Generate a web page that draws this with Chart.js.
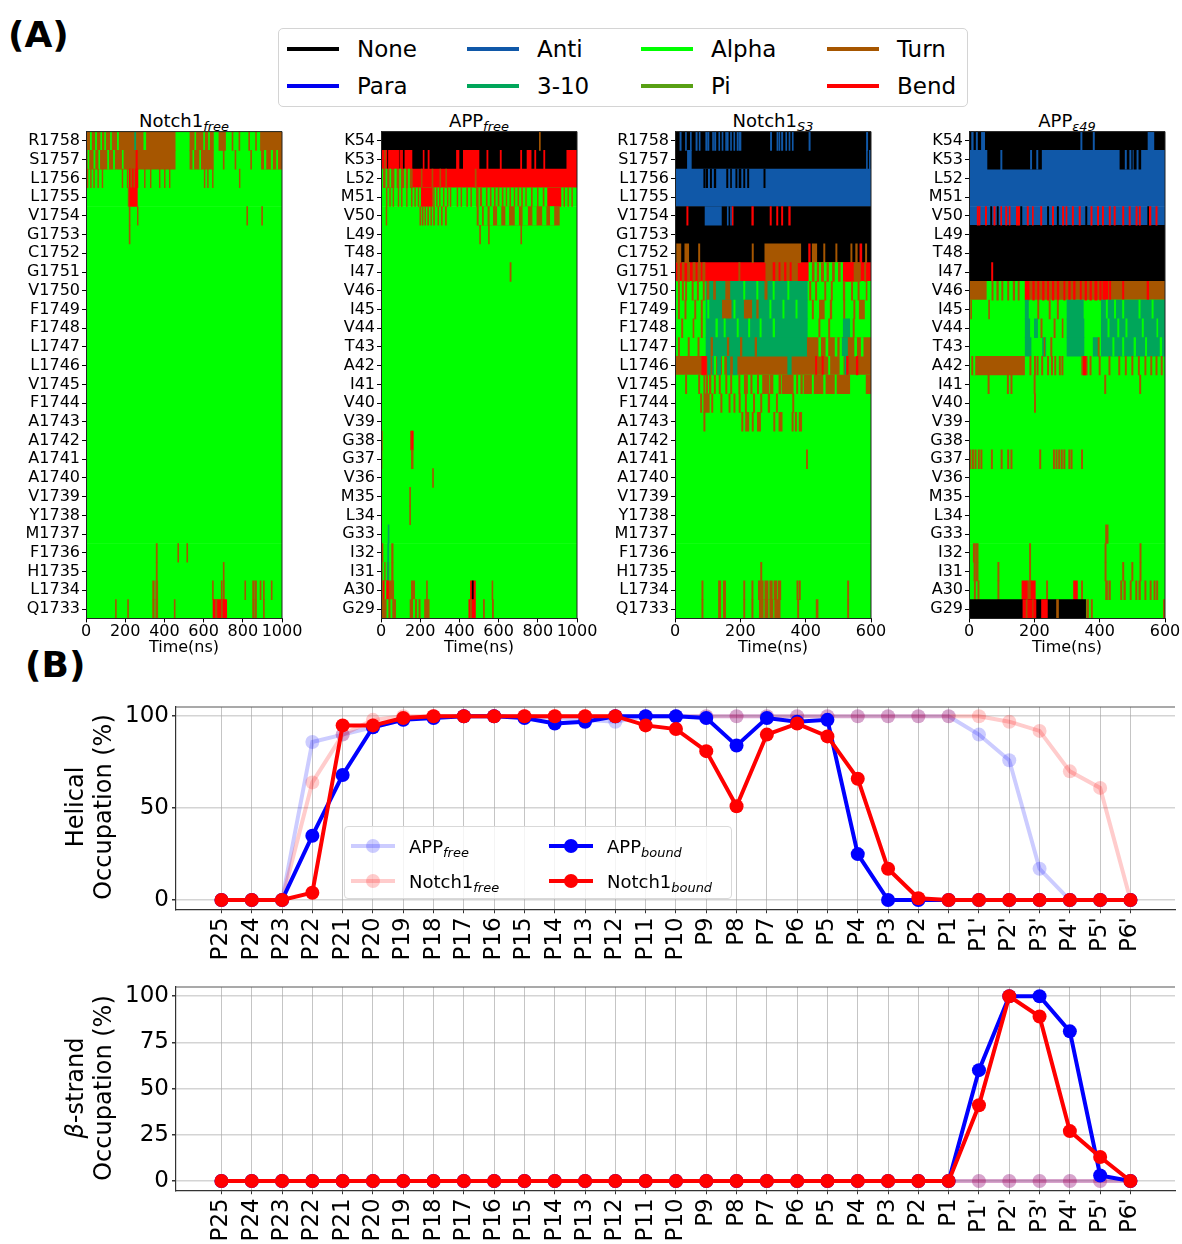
<!DOCTYPE html>
<html>
<head>
<meta charset="utf-8">
<script src="https://cdn.jsdelivr.net/npm/chart.js@4.4.1/dist/chart.umd.min.js"></script>
<style>
  body { margin: 0; width: 1182px; height: 1244px; overflow: hidden; background: #fff; position: relative;
         font-family: "DejaVu Sans", sans-serif; color: #000; }
  canvas { position: absolute; }
  .abs { position: absolute; white-space: nowrap; }
  .panel { font-weight: bold; font-size: 36px; line-height: 36px; }
  sub { font-size: 0.72em; vertical-align: -0.28em; line-height: 0; font-style: italic; }
  #legendA { left: 278px; top: 28px; width: 688px; height: 77px; border: 1px solid #d4d4d4; border-radius: 5px; background: #fff; }
  .litem { position: absolute; height: 30px; display: flex; align-items: center; font-size: 23px; white-space: nowrap; }
  .swatch { display: inline-block; width: 52px; height: 4px; margin-right: 18px; }
  .htitle { font-size: 18px; transform: translateX(-50%); top: 110px; }
  .ytitle { font-size: 24px; line-height: 28px; text-align: center; transform: translate(-50%, -50%) rotate(-90deg); }
  #legendB { left: 344px; top: 826px; width: 386px; height: 71px; border: 1px solid #d9d9d9; border-radius: 4px; background: rgba(255,255,255,0.8); }
  .bitem { position: absolute; height: 26px; display: flex; align-items: center; font-size: 18px; white-space: nowrap; }
  .bitem svg { margin-right: 14px; }
</style>
</head>
<body>
<div class="abs panel" style="left:8px;top:17px">(A)</div>
<div class="abs panel" style="left:25px;top:647px">(B)</div>
<div id="legendA" class="abs"></div>

<div class="abs htitle" style="left:184px">Notch1<sub>free</sub></div>
<div class="abs htitle" style="left:479px">APP<sub>free</sub></div>
<div class="abs htitle" style="left:773px">Notch1<sub>S3</sub></div>
<div class="abs htitle" style="left:1067px">APP<sub>ε49</sub></div>

<canvas id="hm1" width="306" height="555" style="left:0px;top:110px"></canvas>
<canvas id="hm2" width="306" height="555" style="left:295px;top:110px"></canvas>
<canvas id="hm3" width="306" height="555" style="left:589px;top:110px"></canvas>
<canvas id="hm4" width="306" height="555" style="left:883px;top:110px"></canvas>

<canvas id="helix" width="1182" height="270" style="left:0px;top:700px"></canvas>
<canvas id="beta" width="1182" height="264" style="left:0px;top:980px"></canvas>
<div class="abs ytitle" style="left:89px;top:807px">Helical<br>Occupation (%)</div>
<div class="abs ytitle" style="left:89px;top:1088px"><i>β</i>-strand<br>Occupation (%)</div>
<div id="legendB" class="abs"></div>

<script>
// secondary structure states (legend order, column by column)
const stateCodes = ['N', 'P', 'A', 'G', 'H', 'I', 'T', 'S'];
const stateNames = ['None', 'Para', 'Anti', '3-10', 'Alpha', 'Pi', 'Turn', 'Bend'];
const stateColors = ['#000000', '#0000f0', '#1058a8', '#00a65a', '#00ff00', '#58a014', '#a65600', '#ff0000'];

const timeTicksLong = [0, 200, 400, 600, 800, 1000];
const timeTicksShort = [0, 200, 400, 600];

// rows: [residue, state that fills the row], segments: [row, t0, t1, state]
const notch1FreeRows = [['R1758','H'],['S1757','H'],['L1756','H'],['L1755','H'],['V1754','H'],['G1753','H'],['C1752','H'],
  ['G1751','H'],['V1750','H'],['F1749','H'],['F1748','H'],['L1747','H'],['L1746','H'],['V1745','H'],['F1744','H'],
  ['A1743','H'],['A1742','H'],['A1741','H'],['A1740','H'],['V1739','H'],['Y1738','H'],['M1737','H'],['F1736','H'],
  ['H1735','H'],['L1734','H'],['Q1733','H']];
const notch1FreeSegs = [
  [0,0,455,'T'],[0,22,28,'H'],[0,48,54,'H'],[0,75,80,'H'],[0,95,100,'H'],[0,125,130,'H'],[0,160,166,'H'],[0,248,254,'G'],[0,295,305,'H'],
  [0,530,650,'T'],[0,555,560,'H'],[0,600,605,'H'],[0,625,630,'H'],[0,678,712,'T'],
  [0,745,750,'T'],[0,780,785,'T'],[0,830,835,'T'],[0,865,870,'T'],[0,890,1000,'T'],
  [1,0,455,'T'],[1,10,15,'H'],[1,40,46,'H'],[1,65,70,'H'],[1,110,116,'H'],[1,140,146,'H'],[1,185,190,'H'],[1,255,262,'S'],
  [1,530,650,'T'],[1,545,550,'H'],[1,580,585,'H'],
  [1,700,705,'T'],[1,760,765,'T'],[1,840,845,'T'],[1,895,1000,'T'],[1,910,918,'H'],[1,945,952,'H'],[1,972,978,'H'],
  [2,6,10,'T'],[2,23,27,'T'],[2,39,43,'T'],[2,60,64,'T'],[2,82,86,'T'],[2,184,188,'T'],[2,210,214,'T'],[2,220,265,'S'],
  [2,228,234,'T'],[2,244,248,'T'],[2,298,302,'T'],[2,328,332,'T'],[2,374,378,'T'],[2,400,404,'T'],[2,425,429,'T'],
  [2,603,607,'T'],[2,620,624,'T'],[2,645,649,'T'],[2,782,786,'T'],
  [3,215,222,'T'],[3,222,262,'S'],
  [4,220,225,'T'],[4,262,266,'T'],[4,820,825,'T'],[4,896,901,'T'],
  [5,220,225,'T'],
  [22,358,364,'T'],[22,468,473,'T'],[22,514,519,'T'],
  [23,358,364,'T'],[23,700,705,'T'],
  [24,340,348,'T'],[24,356,366,'T'],[24,645,650,'T'],[24,690,695,'T'],[24,700,706,'T'],[24,810,815,'T'],[24,850,858,'T'],
  [24,862,870,'T'],[24,888,893,'T'],[24,905,910,'T'],[24,945,950,'T'],
  [25,150,155,'T'],[25,212,217,'T'],[25,340,348,'T'],[25,356,366,'T'],[25,450,455,'T'],[25,648,718,'S'],[25,660,668,'T'],
  [25,690,696,'T'],[25,850,858,'T'],[25,862,870,'T'],[25,905,910,'T']
];

const appFreeRows = [['K54','N'],['K53','N'],['L52','S'],['M51','H'],['V50','H'],['L49','H'],['T48','H'],['I47','H'],
  ['V46','H'],['I45','H'],['V44','H'],['T43','H'],['A42','H'],['I41','H'],['V40','H'],['V39','H'],['G38','H'],['G37','H'],
  ['V36','H'],['M35','H'],['L34','H'],['G33','H'],['I32','H'],['I31','H'],['A30','H'],['G29','H']];
const appFreeSegs = [
  [0,808,813,'T'],
  [1,0,18,'S'],[1,18,24,'T'],[1,26,30,'S'],[1,38,90,'S'],[1,96,100,'S'],[1,104,110,'S'],[1,122,158,'S'],[1,215,220,'S'],
  [1,240,246,'S'],[1,385,398,'S'],[1,420,500,'S'],[1,540,546,'S'],[1,608,614,'S'],[1,712,718,'S'],[1,745,766,'S'],
  [1,784,790,'S'],[1,830,836,'S'],[1,948,1000,'S'],
  [2,0,12,'H'],[2,12,160,'T'],[2,25,30,'H'],[2,45,50,'H'],[2,70,78,'H'],[2,95,100,'H'],[2,120,125,'H'],[2,140,145,'H'],
  [2,205,210,'T'],[2,260,265,'T'],[2,300,305,'T'],[2,330,335,'T'],[2,480,486,'T'],
  [3,27,31,'T'],[3,44,48,'T'],[3,61,65,'T'],[3,87,91,'T'],[3,104,108,'T'],[3,130,134,'T'],[3,155,159,'T'],[3,172,176,'T'],
  [3,189,193,'T'],[3,205,262,'S'],[3,268,272,'T'],[3,283,287,'T'],[3,298,302,'T'],[3,318,322,'T'],[3,338,342,'T'],
  [3,353,357,'T'],[3,388,392,'T'],[3,408,412,'T'],[3,437,442,'T'],[3,458,462,'T'],[3,487,496,'T'],[3,506,514,'T'],
  [3,537,542,'T'],[3,557,562,'T'],[3,578,583,'T'],[3,597,602,'T'],[3,618,623,'T'],[3,638,642,'T'],[3,657,662,'T'],
  [3,679,683,'T'],[3,698,703,'T'],[3,717,722,'T'],[3,738,742,'T'],[3,767,772,'T'],[3,798,802,'T'],[3,827,832,'T'],
  [3,850,918,'S'],[3,933,937,'T'],[3,953,957,'T'],[3,973,977,'T'],
  [4,26,30,'T'],[4,198,203,'T'],[4,210,215,'T'],[4,224,228,'T'],[4,238,243,'T'],[4,254,258,'T'],[4,268,273,'T'],
  [4,290,294,'T'],[4,308,313,'T'],[4,328,334,'T'],
  [4,490,910,'T'],[4,500,514,'H'],[4,526,542,'H'],[4,556,570,'H'],[4,594,612,'H'],[4,636,652,'H'],[4,684,702,'H'],
  [4,724,748,'H'],[4,774,792,'H'],[4,824,842,'H'],[4,864,882,'H'],
  [5,503,508,'T'],[5,548,553,'T'],[5,713,718,'T'],
  [7,658,664,'T'],
  [16,0,7,'T'],[16,150,166,'T'],[16,156,162,'S'],
  [17,0,5,'T'],[17,155,164,'T'],
  [18,263,268,'T'],
  [19,146,151,'T'],
  [20,146,151,'T'],
  [21,0,3,'T'],[21,36,41,'G'],
  [22,0,10,'T'],[22,34,39,'G'],[22,54,62,'T'],
  [23,0,40,'T'],[23,10,15,'H'],[23,25,30,'H'],[23,34,39,'G'],[23,54,62,'T'],
  [24,0,65,'T'],[24,12,38,'S'],[24,20,25,'H'],[24,155,172,'T'],[24,232,237,'T'],[24,456,482,'S'],[24,465,471,'N'],[24,566,571,'T'],
  [25,0,75,'T'],[25,30,36,'H'],[25,50,56,'H'],[25,148,200,'T'],[25,165,172,'H'],[25,185,190,'H'],[25,222,246,'T'],
  [25,448,482,'S'],[25,455,462,'T'],[25,522,528,'T'],[25,568,574,'T']
];

const notch1S3Rows = [['R1758','N'],['S1757','N'],['L1756','A'],['L1755','A'],['V1754','N'],['G1753','N'],['C1752','N'],
  ['G1751','S'],['V1750','H'],['F1749','H'],['F1748','H'],['L1747','H'],['L1746','T'],['V1745','H'],['F1744','H'],
  ['A1743','H'],['A1742','H'],['A1741','H'],['A1740','H'],['V1739','H'],['Y1738','H'],['M1737','H'],['F1736','H'],
  ['H1735','H'],['L1734','H'],['Q1733','H']];
const notch1S3Segs = [
  [0,15,19,'A'],[0,32,35,'A'],[0,47,50,'A'],[0,64,68,'A'],[0,74,77,'A'],[0,94,98,'A'],[0,100,104,'A'],[0,115,118,'A'],
  [0,121,125,'A'],[0,134,137,'A'],[0,144,147,'A'],[0,155,158,'A'],[0,160,163,'A'],[0,170,173,'A'],[0,180,183,'A'],
  [0,190,194,'A'],[0,197,202,'A'],[0,292,296,'A'],[0,312,315,'A'],[0,318,321,'A'],[0,326,330,'A'],[0,339,342,'A'],
  [0,349,352,'A'],[0,359,362,'A'],[0,410,414,'A'],[0,586,590,'A'],
  [1,38,50,'A'],[1,586,589,'A'],[1,595,598,'A'],
  [2,88,92,'N'],[2,95,100,'N'],[2,108,112,'N'],[2,120,125,'N'],[2,158,162,'N'],[2,170,173,'N'],[2,186,190,'N'],
  [2,196,202,'N'],[2,210,214,'N'],[2,222,226,'N'],[2,272,276,'N'],
  [4,92,142,'A'],[4,160,163,'A'],[4,170,173,'A'],[4,36,40,'S'],[4,175,178,'S'],[4,235,240,'S'],[4,291,295,'S'],
  [4,311,315,'S'],[4,326,330,'S'],[4,348,353,'S'],
  [6,5,18,'T'],[6,30,42,'T'],[6,72,76,'T'],[6,236,240,'T'],[6,275,385,'T'],[6,409,414,'S'],[6,420,434,'T'],[6,455,459,'T'],
  [6,492,496,'T'],[6,538,542,'T'],[6,553,558,'T'],[6,566,572,'S'],[6,583,587,'T'],
  [7,8,14,'T'],[7,22,28,'T'],[7,38,45,'T'],[7,55,62,'T'],[7,70,78,'T'],[7,85,92,'T'],[7,195,199,'T'],[7,278,375,'T'],
  [7,300,306,'S'],[7,318,322,'S'],[7,335,340,'S'],[7,352,356,'S'],[7,410,515,'H'],[7,420,426,'T'],[7,435,440,'T'],
  [7,448,455,'T'],[7,465,470,'T'],[7,482,488,'T'],[7,500,506,'T'],[7,515,548,'S'],[7,548,568,'T'],[7,580,584,'T'],
  [8,10,14,'T'],[8,22,26,'T'],[8,32,36,'T'],[8,52,56,'T'],[8,68,72,'T'],[8,86,90,'T'],[8,95,405,'G'],[8,98,104,'T'],
  [8,118,124,'T'],[8,155,168,'T'],[8,275,282,'T'],[8,210,214,'H'],[8,250,254,'H'],[8,300,304,'H'],[8,345,349,'H'],
  [8,412,416,'T'],[8,430,434,'T'],[8,458,462,'T'],[8,478,482,'T'],[8,515,520,'T'],[8,540,544,'T'],[8,560,564,'T'],[8,585,588,'T'],
  [9,10,14,'T'],[9,30,34,'T'],[9,60,64,'T'],[9,80,84,'T'],[9,95,405,'G'],[9,100,104,'H'],[9,145,172,'T'],[9,180,184,'H'],
  [9,212,235,'T'],[9,250,255,'T'],[9,290,294,'H'],[9,330,334,'H'],[9,370,374,'H'],[9,420,424,'T'],[9,442,457,'T'],
  [9,475,480,'T'],[9,516,520,'T'],[9,547,551,'T'],[9,564,580,'T'],
  [10,20,24,'T'],[10,55,58,'T'],[10,80,84,'T'],[10,95,405,'G'],[10,125,130,'H'],[10,150,154,'H'],[10,190,194,'H'],
  [10,225,229,'H'],[10,260,264,'H'],[10,300,305,'H'],[10,440,444,'T'],[10,470,474,'T'],[10,515,535,'G'],[10,545,549,'T'],
  [11,10,14,'T'],[11,40,44,'T'],[11,70,74,'T'],[11,95,405,'G'],[11,110,115,'T'],[11,160,165,'T'],[11,200,205,'T'],
  [11,245,250,'T'],[11,405,600,'T'],[11,440,446,'H'],[11,462,468,'H'],[11,490,496,'H'],[11,505,510,'H'],[11,512,528,'G'],
  [11,550,556,'H'],[11,570,576,'H'],
  [12,82,96,'S'],[12,100,108,'G'],[12,115,122,'G'],[12,120,125,'H'],[12,130,140,'G'],[12,145,150,'H'],[12,160,168,'G'],
  [12,178,190,'G'],[12,345,356,'G'],[12,430,434,'S'],[12,450,454,'S'],[12,470,474,'H'],[12,505,515,'H'],[12,520,525,'G'],
  [12,525,530,'S'],[12,555,560,'S'],
  [13,32,36,'T'],[13,72,76,'T'],[13,88,92,'T'],[13,96,100,'T'],[13,105,110,'T'],[13,120,124,'T'],[13,135,139,'T'],
  [13,155,159,'T'],[13,170,174,'T'],[13,195,199,'T'],[13,212,222,'T'],[13,232,236,'T'],[13,252,256,'T'],[13,268,288,'T'],
  [13,292,300,'T'],[13,318,324,'T'],[13,328,362,'T'],[13,372,376,'T'],[13,385,390,'T'],[13,395,535,'T'],[13,420,424,'H'],
  [13,455,460,'H'],[13,490,494,'H'],[13,585,600,'T'],
  [14,78,82,'T'],[14,88,105,'T'],[14,112,116,'T'],[14,140,144,'T'],[14,165,169,'T'],[14,180,184,'T'],[14,196,200,'T'],
  [14,215,219,'T'],[14,240,244,'T'],[14,262,266,'T'],[14,285,290,'T'],[14,310,314,'T'],[14,360,364,'T'],
  [15,88,92,'T'],[15,204,208,'T'],[15,216,226,'T'],[15,236,240,'T'],[15,252,262,'T'],[15,302,306,'T'],[15,318,328,'T'],
  [15,358,362,'T'],[15,368,372,'T'],[15,380,388,'T'],
  [17,402,406,'T'],
  [23,262,266,'T'],
  [24,82,86,'T'],[24,133,140,'T'],[24,148,155,'T'],[24,210,214,'T'],[24,235,239,'T'],[24,255,270,'T'],[24,275,285,'T'],
  [24,290,298,'T'],[24,303,312,'T'],[24,316,324,'T'],[24,373,377,'T'],[24,380,384,'T'],[24,528,532,'T'],
  [25,82,86,'T'],[25,133,140,'T'],[25,148,155,'T'],[25,210,214,'T'],[25,235,239,'T'],[25,258,270,'T'],[25,275,285,'T'],
  [25,290,300,'T'],[25,305,322,'T'],[25,375,379,'T'],[25,432,438,'T'],[25,528,532,'T']
];

const appE49Rows = [['K54','N'],['K53','A'],['L52','A'],['M51','A'],['V50','A'],['L49','N'],['T48','N'],['I47','N'],
  ['V46','T'],['I45','H'],['V44','H'],['T43','H'],['A42','H'],['I41','H'],['V40','H'],['V39','H'],['G38','H'],['G37','H'],
  ['V36','H'],['M35','H'],['L34','H'],['G33','H'],['I32','H'],['I31','H'],['A30','H'],['G29','H']];
const appE49Segs = [
  [0,8,13,'A'],[0,22,26,'A'],[0,38,48,'A'],[0,342,346,'A'],[0,380,384,'A'],[0,548,566,'A'],
  [1,57,95,'N'],[1,103,222,'N'],[1,188,192,'A'],[1,207,211,'A'],[1,462,500,'N'],[1,478,482,'A'],[1,492,496,'A'],
  [1,505,512,'N'],[1,520,526,'N'],
  [4,25,29,'S'],[4,31,34,'S'],[4,50,54,'S'],[4,76,80,'S'],[4,97,100,'S'],[4,112,116,'S'],[4,123,126,'S'],[4,145,155,'S'],
  [4,178,182,'S'],[4,194,197,'S'],[4,219,223,'S'],[4,255,259,'S'],[4,286,290,'S'],[4,297,300,'S'],[4,316,320,'S'],
  [4,337,341,'S'],[4,373,377,'S'],[4,393,397,'S'],[4,408,412,'S'],[4,429,433,'S'],[4,444,448,'S'],[4,470,474,'S'],
  [4,490,494,'S'],[4,511,515,'S'],[4,521,525,'S'],[4,552,557,'S'],[4,572,576,'S'],
  [4,66,70,'N'],[4,86,90,'N'],[4,158,162,'N'],[4,240,244,'N'],[4,270,274,'N'],[4,357,361,'N'],[4,547,550,'N'],
  [7,69,73,'S'],
  [8,55,170,'H'],[8,70,74,'T'],[8,85,90,'T'],[8,100,104,'T'],[8,118,122,'T'],[8,135,140,'T'],[8,150,154,'T'],
  [8,172,184,'S'],[8,195,200,'S'],[8,210,214,'S'],[8,225,230,'S'],[8,240,244,'S'],[8,255,260,'S'],[8,270,275,'S'],
  [8,290,294,'S'],[8,305,310,'S'],[8,320,325,'S'],[8,340,344,'S'],[8,355,360,'S'],[8,370,375,'S'],[8,385,392,'S'],
  [8,400,405,'S'],[8,410,425,'S'],[8,430,434,'S'],[8,470,474,'S'],[8,545,550,'S'],
  [9,5,8,'T'],[9,60,63,'T'],[9,172,182,'G'],[9,210,214,'T'],[9,245,249,'T'],[9,270,274,'T'],[9,300,350,'G'],[9,405,600,'G'],
  [9,420,424,'H'],[9,445,449,'H'],[9,470,474,'H'],[9,520,524,'H'],[9,560,564,'H'],
  [10,172,186,'G'],[10,200,210,'G'],[10,220,224,'T'],[10,260,264,'T'],[10,285,288,'T'],[10,300,352,'G'],[10,405,600,'G'],
  [10,425,429,'H'],[10,455,459,'H'],[10,480,484,'H'],[10,530,534,'H'],[10,575,578,'H'],
  [11,172,190,'G'],[11,225,235,'G'],[11,230,232,'T'],[11,250,254,'T'],[11,300,352,'G'],[11,380,395,'G'],[11,395,399,'T'],
  [11,405,600,'G'],[11,440,444,'H'],[11,470,474,'H'],[11,505,510,'H'],[11,540,544,'H'],[11,585,590,'H'],
  [12,8,170,'T'],[12,14,18,'H'],[12,186,190,'T'],[12,200,204,'T'],[12,208,212,'T'],[12,222,226,'T'],[12,240,244,'T'],
  [12,252,256,'T'],[12,262,266,'T'],[12,276,280,'T'],[12,284,288,'T'],[12,345,362,'T'],[12,350,358,'S'],[12,370,374,'T'],
  [12,398,402,'T'],[12,428,432,'T'],[12,458,462,'T'],[12,478,482,'T'],[12,498,502,'T'],[12,518,522,'T'],[12,538,542,'T'],
  [12,556,560,'T'],[12,572,576,'T'],[12,588,592,'T'],
  [13,58,62,'T'],[13,117,121,'T'],[13,128,132,'T'],[13,199,203,'T'],[13,415,419,'T'],[13,522,526,'T'],
  [14,200,204,'T'],
  [17,2,6,'T'],[17,10,14,'T'],[17,18,22,'T'],[17,28,32,'T'],[17,36,40,'T'],[17,68,72,'T'],[17,98,102,'T'],[17,118,122,'T'],
  [17,128,132,'T'],[17,216,220,'T'],[17,258,262,'T'],[17,266,270,'T'],[17,274,278,'T'],[17,282,286,'T'],[17,290,294,'T'],
  [17,305,309,'T'],[17,312,316,'T'],[17,344,348,'T'],
  [21,418,426,'T'],
  [22,13,20,'T'],[22,22,28,'T'],[22,185,189,'T'],[22,416,420,'T'],[22,523,527,'T'],
  [23,15,20,'T'],[23,22,28,'T'],[23,88,92,'T'],[23,185,189,'T'],[23,416,420,'T'],[23,470,474,'T'],[23,498,502,'T'],[23,523,527,'T'],
  [24,16,20,'T'],[24,27,31,'T'],[24,88,92,'T'],[24,162,180,'S'],[24,180,190,'T'],[24,190,203,'S'],[24,237,241,'T'],
  [24,320,332,'S'],[24,344,348,'T'],[24,418,424,'T'],[24,428,433,'T'],[24,464,468,'T'],[24,474,479,'T'],[24,493,497,'T'],
  [24,510,514,'T'],[24,520,525,'T'],[24,538,542,'T'],[24,554,558,'T'],[24,566,570,'T'],[24,574,578,'T'],
  [25,0,357,'N'],[25,165,175,'S'],[25,175,180,'T'],[25,180,195,'S'],[25,195,198,'T'],[25,198,205,'S'],[25,222,240,'S'],
  [25,268,274,'T'],[25,360,366,'T'],[25,374,378,'T'],[25,595,600,'T']
];

// panel B: residue positions and occupancies (%)
const positions = ['P25','P24','P23','P22','P21','P20','P19','P18','P17','P16','P15','P14','P13','P12','P11','P10',
  'P9','P8','P7','P6','P5','P4','P3','P2','P1',"P1'","P2'","P3'","P4'","P5'","P6'"];
const helixAppFree    = [0,0,0,86,90,94,98,100,100,100,100,99,98,97,100,100,100,100,100,100,100,100,100,100,100,90,76,17,0,0,0];
const helixNotchFree  = [0,0,0,64,90,98,100,100,100,100,100,100,100,100,100,100,100,100,100,100,100,100,100,100,100,100,97,92,70,61,0];
const helixAppBound   = [0,0,0,35,68,94,98,99,100,100,99,96,97,100,100,100,99,84,99,97,98,25,0,0,0,0,0,0,0,0,0];
const helixNotchBound = [0,0,0,4,95,95,99,100,100,100,100,100,100,100,95,93,81,51,90,96,89,66,17,1,0,0,0,0,0,0,0];
const betaAppFree     = [0,0,0,0,0,0,0,0,0,0,0,0,0,0,0,0,0,0,0,0,0,0,0,0,0,0,0,0,0,0,0];
const betaNotchFree   = [0,0,0,0,0,0,0,0,0,0,0,0,0,0,0,0,0,0,0,0,0,0,0,0,0,0,0,0,0,0,0];
const betaAppBound    = [0,0,0,0,0,0,0,0,0,0,0,0,0,0,0,0,0,0,0,0,0,0,0,0,0,60,100,100,81,3,0];
const betaNotchBound  = [0,0,0,0,0,0,0,0,0,0,0,0,0,0,0,0,0,0,0,0,0,0,0,0,0,41,100,89,27,13,0];
const helixTicks = [0, 50, 100];
const betaTicks = [0, 25, 50, 75, 100];
const seriesNames = ['APP', 'Notch1', 'APP', 'Notch1'];
const seriesSubs = ['free', 'free', 'bound', 'bound'];
const seriesColors = ['rgba(0,0,255,0.2)', 'rgba(255,0,0,0.2)', '#0000ff', '#ff0000'];

// ---------------------------------------------------------------
const FONT = "'DejaVu Sans', sans-serif";
Chart.defaults.font.family = FONT;
Chart.defaults.color = '#000';
const colorOf = Object.fromEntries(stateCodes.map((c, i) => [c, stateColors[i]]));

const frame = {
  id: 'frame',
  afterDatasetsDraw(chart, args, opts) {
    const { ctx, chartArea: a } = chart;
    ctx.save();
    ctx.strokeStyle = opts.color;
    ctx.lineWidth = opts.width;
    ctx.beginPath();
    ctx.moveTo(a.left, a.top); ctx.lineTo(a.right, a.top);
    if (opts.right) { ctx.moveTo(a.right, a.top); ctx.lineTo(a.right, a.bottom); }
    ctx.stroke();
    ctx.restore();
  }
};

function heatmap(id, rows, segs, tMax, ticks) {
  const labels = rows.map(r => r[0]);
  const data = rows.map(r => ({ y: r[0], x: [0, tMax], s: r[1] }));
  segs.forEach(([r, t0, t1, s]) => data.push({ y: labels[r], x: [t0, t1], s }));
  return new Chart(document.getElementById(id), {
    type: 'bar',
    data: { labels, datasets: [{ data, backgroundColor: c => (c.raw ? colorOf[c.raw.s] : '#000'),
      borderWidth: 0, barPercentage: 1, categoryPercentage: 1 }] },
    plugins: [frame],
    options: {
      indexAxis: 'y', responsive: false, animation: false,
      layout: { padding: { top: 21.6, right: 24, left: 0, bottom: 0 } },
      plugins: { legend: { display: false }, tooltip: { enabled: false }, frame: { color: '#222', width: 1, right: true } },
      scales: {
        x: {
          type: 'linear', min: 0, max: tMax,
          afterBuildTicks: s => { s.ticks = ticks.map(v => ({ value: v })); },
          afterFit: s => { s.height = 46.6; },
          ticks: { callback: v => String(v), font: { size: 16 }, padding: 0, maxRotation: 0, autoSkip: false },
          grid: { drawOnChartArea: false, tickLength: 4, tickColor: '#000' },
          border: { color: '#222', z: 1 },
          title: { display: true, text: 'Time(ns)', font: { size: 16 }, padding: { top: 0, bottom: 7.4 } }
        },
        y: {
          afterFit: s => { s.width = 86; },
          ticks: { font: { size: 16 }, padding: 2, autoSkip: false },
          grid: { offset: false, drawOnChartArea: false, tickLength: 4, tickColor: '#000' },
          border: { color: '#222', z: 1 }
        }
      }
    }
  });
}

heatmap('hm1', notch1FreeRows, notch1FreeSegs, 1000, timeTicksLong);
heatmap('hm2', appFreeRows, appFreeSegs, 1000, timeTicksLong);
heatmap('hm3', notch1S3Rows, notch1S3Segs, 600, timeTicksShort);
heatmap('hm4', appE49Rows, appE49Segs, 600, timeTicksShort);

function occupancy(id, series, yTicks, padTop, xHeight) {
  return new Chart(document.getElementById(id), {
    type: 'line',
    data: { datasets: series.map((vals, k) => ({
      data: vals.map((v, i) => ({ x: i, y: v })),
      borderColor: seriesColors[k], backgroundColor: seriesColors[k], pointBackgroundColor: seriesColors[k],
      pointBorderWidth: 0, pointRadius: 7, borderWidth: 4, order: 4 - k
    })) },
    plugins: [frame],
    options: {
      responsive: false, animation: false,
      layout: { padding: { top: padTop, right: 0, left: 0, bottom: 0 } },
      plugins: { legend: { display: false }, tooltip: { enabled: false }, frame: { color: '#555', width: 1.2, right: false } },
      scales: {
        x: {
          type: 'linear', min: -1.5, max: 31.47,
          afterBuildTicks: s => { s.ticks = positions.map((p, i) => ({ value: i })); },
          afterFit: s => { s.height = xHeight; },
          ticks: { callback: v => positions[v] ?? '', autoSkip: false, minRotation: 90, maxRotation: 90, font: { size: 23 }, padding: 4 },
          grid: { color: 'rgba(150,150,150,0.55)', lineWidth: 1, tickLength: 4, tickColor: '#333' },
          border: { color: '#333', width: 1.2, z: 1 }
        },
        y: {
          min: -5, max: 105,
          afterBuildTicks: s => { s.ticks = yTicks.map(v => ({ value: v })); },
          // keep the plot box where it is: labels may overhang the top edge
          afterFit: s => { s.width = 176; s.paddingTop = 0; s.paddingBottom = 0; },
          ticks: { callback: v => String(v), font: { size: 23 }, padding: 3 },
          grid: { color: 'rgba(170,170,170,0.5)', lineWidth: 1.5, tickLength: 4, tickColor: '#333' },
          border: { color: '#333', width: 1.2, z: 1 }
        }
      }
    }
  });
}

occupancy('helix', [helixAppFree, helixNotchFree, helixAppBound, helixNotchBound], helixTicks, 5.75, 60.75);
occupancy('beta', [betaAppFree, betaNotchFree, betaAppBound, betaNotchBound], betaTicks, 6.75, 53.75);

// legend of panel A: 4 columns x 2 rows, filled column by column
const legA = document.getElementById('legendA');
const colsA = [8, 188, 362, 548], rowsA = [5, 42];
stateNames.forEach((name, i) => {
  const el = document.createElement('div');
  el.className = 'litem';
  el.style.left = colsA[Math.floor(i / 2)] + 'px';
  el.style.top = rowsA[i % 2] + 'px';
  el.innerHTML = '<span class="swatch" style="background:' + stateColors[i] + '"></span>' + name;
  legA.appendChild(el);
});

// legend of panel B
const legB = document.getElementById('legendB');
const colsB = [6, 204], rowsB = [6, 41];
seriesNames.forEach((name, k) => {
  const c = seriesColors[k];
  const el = document.createElement('div');
  el.className = 'bitem';
  el.style.left = colsB[Math.floor(k / 2)] + 'px';
  el.style.top = rowsB[k % 2] + 'px';
  el.innerHTML = '<svg width="44" height="16"><line x1="0" y1="8" x2="44" y2="8" stroke="' + c + '" stroke-width="4"/>' +
    '<circle cx="22" cy="8" r="7" fill="' + c + '"/></svg><span>' + name + '<sub>' + seriesSubs[k] + '</sub></span>';
  legB.appendChild(el);
});
</script>
</body>
</html>
